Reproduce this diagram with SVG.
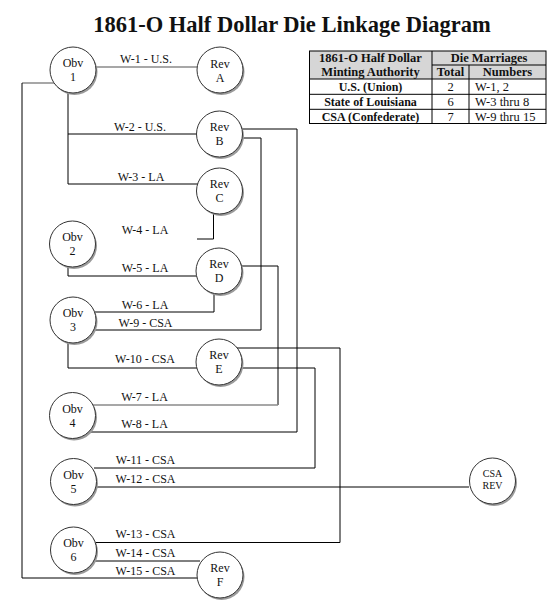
<svg xmlns="http://www.w3.org/2000/svg" width="557" height="613" viewBox="0 0 557 613">
<style>
text{font-family:"Liberation Serif","Times New Roman",serif;fill:#111}
.title{font-size:22.5px;font-weight:bold;text-anchor:middle}
.lbl{font-size:12px;text-anchor:middle}
.nt{font-size:12px;text-anchor:middle}
.nts{font-size:10px;text-anchor:middle}
.th{font-size:12.5px;font-weight:bold;text-anchor:middle}
.tb{font-size:12px;font-weight:bold;text-anchor:middle}
.td{font-size:12.5px;text-anchor:middle}
.tl{font-size:12.5px}
.c{fill:none;stroke:#000;stroke-width:1}
.g{fill:none;stroke:#8a8a8a;stroke-width:1.5}
.sh{fill:#9a9a9a;stroke:none}
.nd{fill:#fff;stroke:#333;stroke-width:1}
.tab{fill:none;stroke:#000;stroke-width:1}
</style>
<defs>
<g id="disc"><circle class="sh" cx="1.5" cy="2" r="23"/><circle class="nd" cx="0" cy="0" r="23"/></g>
</defs>
<text class="title" x="292" y="32">1861-O Half Dollar Die Linkage Diagram</text>

<g id="table">
<rect x="309.5" y="51" width="236.5" height="28" fill="#d6d6d6"/>
<rect class="tab" x="309.5" y="51" width="236.5" height="72.5" stroke-width="1.3"/>
<path class="tab" d="M432 65H546M309.5 79H546M309.5 94.3H546M309.5 109.3H546M432 51V123.5M469 65V123.5"/>
<text class="th" x="370.5" y="62">1861-O Half Dollar</text>
<text class="th" x="370.5" y="76">Minting Authority</text>
<text class="th" x="489" y="62">Die Marriages</text>
<text class="th" x="450.5" y="76">Total</text>
<text class="th" x="507.5" y="76">Numbers</text>
<text class="tb" x="370.5" y="91">U.S. (Union)</text>
<text class="td" x="450.5" y="91">2</text>
<text class="tl" x="475" y="91">W-1, 2</text>
<text class="tb" x="370.5" y="106">State of Louisiana</text>
<text class="td" x="450.5" y="106">6</text>
<text class="tl" x="475" y="106">W-3 thru 8</text>
<text class="tb" x="370.5" y="121">CSA (Confederate)</text>
<text class="td" x="450.5" y="121">7</text>
<text class="tl" x="475" y="121">W-9 thru 15</text>
</g>

<g id="connectors">
<path class="g" d="M96 67H197"/>
<path class="g" d="M22 83H54"/>
<path class="c" d="M22 83V578H198"/>
<path class="c" d="M68 92V184H198M68 134H197"/>
<path class="c" d="M242 129H297V432H90"/>
<path class="c" d="M242 138H261V330H94"/>
<path class="c" d="M213.5 213V239H197"/>
<path class="c" d="M68 266V276H197"/>
<path class="c" d="M241 266H278V405"/>
<path class="g" d="M93 405H278"/>
<path class="c" d="M214 293V312H95"/>
<path class="c" d="M68 342V368H197"/>
<path class="c" d="M237 348H340V542.5H95"/>
<path class="c" d="M241 368H315V468H94"/>
<path class="c" d="M96 487H469"/>
<path class="c" d="M90 561H200"/>
<g id="labels">
<text class="lbl" x="146" y="63">W-1 - U.S.</text>
<text class="lbl" x="140" y="131">W-2 - U.S.</text>
<text class="lbl" x="141" y="181">W-3 - LA</text>
<text class="lbl" x="145" y="234">W-4 - LA</text>
<text class="lbl" x="145" y="272">W-5 - LA</text>
<text class="lbl" x="145" y="309">W-6 - LA</text>
<text class="lbl" x="145.5" y="327">W-9 - CSA</text>
<text class="lbl" x="145" y="363">W-10 - CSA</text>
<text class="lbl" x="144.5" y="401">W-7 - LA</text>
<text class="lbl" x="144.5" y="428">W-8 - LA</text>
<text class="lbl" x="145.5" y="464">W-11 - CSA</text>
<text class="lbl" x="145.5" y="483">W-12 - CSA</text>
<text class="lbl" x="145.5" y="538">W-13 - CSA</text>
<text class="lbl" x="145.5" y="557">W-14 - CSA</text>
<text class="lbl" x="145.5" y="575">W-15 - CSA</text>
</g>
</g>

<g id="obv1"><use href="#disc" x="73" y="70"/><text class="nt" x="73" y="67">Obv</text><text class="nt" x="73" y="81">1</text></g>
<g id="revA"><use href="#disc" x="220" y="70"/><text class="nt" x="220" y="68">Rev</text><text class="nt" x="220" y="82">A</text></g>
<g id="revB"><use href="#disc" x="219.5" y="134"/><text class="nt" x="219.5" y="131">Rev</text><text class="nt" x="219.5" y="145">B</text></g>
<g id="revC"><use href="#disc" x="219.5" y="191"/><text class="nt" x="219.5" y="188">Rev</text><text class="nt" x="219.5" y="202">C</text></g>
<g id="obv2"><use href="#disc" x="72.5" y="244"/><text class="nt" x="72.5" y="241">Obv</text><text class="nt" x="72.5" y="255">2</text></g>
<g id="revD"><use href="#disc" x="219" y="271"/><text class="nt" x="219" y="268">Rev</text><text class="nt" x="219" y="282">D</text></g>
<g id="obv3"><use href="#disc" x="73" y="320"/><text class="nt" x="73" y="317">Obv</text><text class="nt" x="73" y="331">3</text></g>
<g id="revE"><use href="#disc" x="219" y="362"/><text class="nt" x="219" y="359">Rev</text><text class="nt" x="219" y="373">E</text></g>
<g id="obv4"><use href="#disc" x="72.5" y="415.5"/><text class="nt" x="72.5" y="412.5">Obv</text><text class="nt" x="72.5" y="426.5">4</text></g>
<g id="obv5"><use href="#disc" x="73.5" y="481.5"/><text class="nt" x="73.5" y="478.5">Obv</text><text class="nt" x="73.5" y="492.5">5</text></g>
<g id="csaRev"><use href="#disc" x="492.5" y="481"/><text class="nts" x="492.5" y="477">CSA</text><text class="nts" x="492.5" y="489">REV</text></g>
<g id="obv6"><use href="#disc" x="73.5" y="550"/><text class="nt" x="73.5" y="547">Obv</text><text class="nt" x="73.5" y="561">6</text></g>
<g id="revF"><use href="#disc" x="220" y="575"/><text class="nt" x="220" y="572">Rev</text><text class="nt" x="220" y="586">F</text></g>
</svg>
